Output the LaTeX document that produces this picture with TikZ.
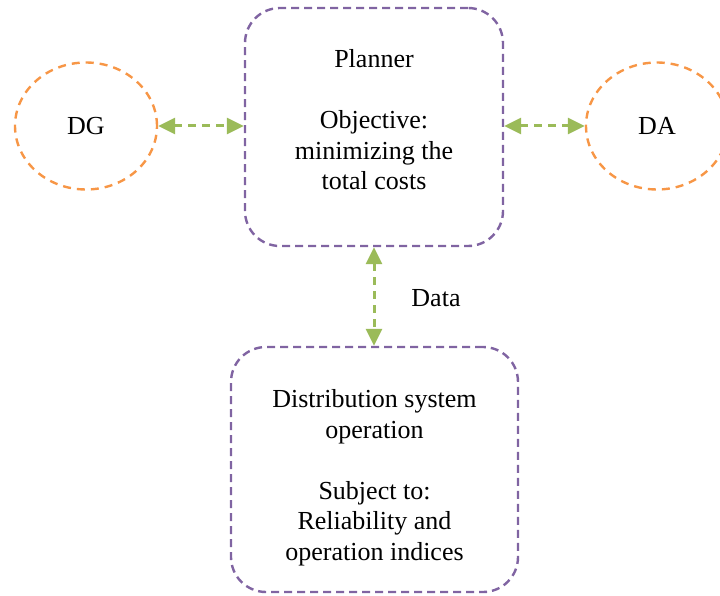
\documentclass[tikz,border=0pt]{standalone}
\usepackage{fontspec}
\setmainfont{Liberation Serif}
\usetikzlibrary{arrows.meta,positioning,shapes.geometric}
\definecolor{plpurple}{HTML}{8064A2}
\definecolor{plorange}{HTML}{F79646}
\definecolor{plgreen}{HTML}{9BBB59}

\begin{document}
\begin{tikzpicture}[x=1pt,y=1pt,
    font=\fontsize{26}{30.5}\selectfont,
    box/.style={draw=plpurple,line width=2.4pt,dash pattern=on 8pt off 5pt,
      rounded corners=35pt,inner sep=0pt},
    agent/.style={ellipse,draw=plorange,line width=2.4pt,dash pattern=on 8pt off 6pt,
      minimum width=142pt,minimum height=127pt,inner sep=0pt},
    boxtext/.style={align=center,inner sep=0pt},
    link/.style={{Triangle[length=17pt,width=16pt]}-{Triangle[length=17pt,width=16pt]},
      plgreen,line width=3pt,dash pattern=on 8pt off 6pt}]

  \useasboundingbox (0,0) rectangle (720,595);

  % ---- Boxes -------------------------------------------------
  \node[box,minimum width=258pt,minimum height=238pt] (planner) at (374,468) {};
  \node[boxtext] (plannertext) at (374,475)
    {Planner\\[30.5pt]Objective:\\minimizing the\\total costs};
  \node[box,minimum width=287pt,minimum height=245pt] (dist) at (374.5,125.5) {};
  \node[boxtext] (disttext) at (374.5,117.5)
    {Distribution system\\operation\\[30.5pt]Subject to:\\Reliability and\\operation indices};

  % ---- Agents ------------------------------------------------
  \node[agent] (dg) at (86,469) {DG};
  \node[agent] (da) at (657,469) {DA};

  % ---- Links -------------------------------------------------
  \draw[link] (dg.east) -- (planner.west |- dg.east);
  \draw[link] (planner.east |- da.west) -- (da.west);
  \draw[link] (planner.south) -- (planner.south |- dist.north);
  \node (data) at (436,297) {Data};

\end{tikzpicture}
\end{document}
